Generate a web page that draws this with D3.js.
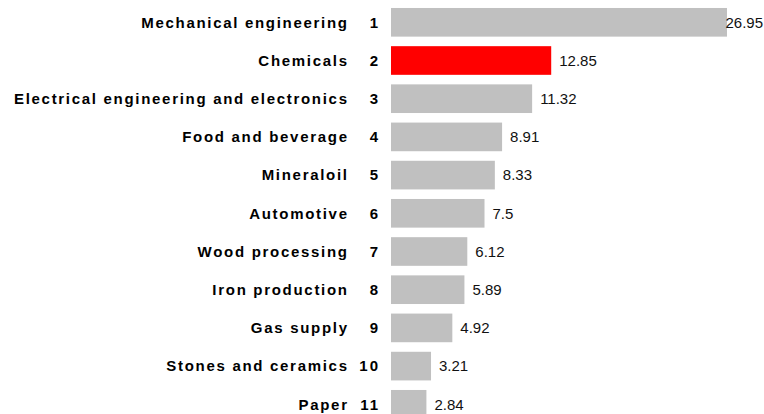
<!DOCTYPE html>
<html>
<head>
<meta charset="utf-8">
<script src="https://cdn.jsdelivr.net/npm/d3@7"></script>
<style>
  body { margin: 0; background: #fff; }
  svg { display: block; }
  .label { font: bold 15px "Liberation Sans", Arial, sans-serif; letter-spacing: 1.7px; fill: #000; }
  .rank { font: bold 15px "Liberation Sans", Arial, sans-serif; letter-spacing: 2px; fill: #000; }
  .value { font: 15px "Liberation Sans", Arial, sans-serif; fill: #111; }
</style>
</head>
<body>
<svg id="chart"></svg>
<script>
'use strict';

const sectors = [
  'Mechanical engineering',
  'Chemicals',
  'Electrical engineering and electronics',
  'Food and beverage',
  'Mineraloil',
  'Automotive',
  'Wood processing',
  'Iron production',
  'Gas supply',
  'Stones and ceramics',
  'Paper'
];
const ranks = [1, 2, 3, 4, 5, 6, 7, 8, 9, 10, 11];
const values = [26.95, 12.85, 11.32, 8.91, 8.33, 7.5, 6.12, 5.89, 4.92, 3.21, 2.84];
const highlighted = 'Chemicals';

const width = 764;
const height = 414;

const svg = d3.select('#chart')
  .attr('width', width)
  .attr('height', height);

// Bars start right of the rank column.
const x = d3.scaleLinear()
  .domain([0, d3.max(values)])
  .range([391, 727]);

// Last row runs off the bottom edge, as in the original.
const y = d3.scaleBand()
  .domain(sectors)
  .range([3.2, 3.2 + sectors.length * 38.2])
  .paddingInner(0.25)
  .paddingOuter(0.125);

const mid = d => y(d.name) + y.bandwidth() / 2;

const rows = svg.selectAll('g.row')
  .data(sectors.map((name, i) => ({ name, rank: ranks[i], value: values[i] })))
  .join('g')
  .attr('class', 'row');

rows.append('rect')
  .attr('x', x(0))
  .attr('y', d => y(d.name))
  .attr('width', d => x(d.value) - x(0))
  .attr('height', y.bandwidth())
  .attr('fill', d => d.name === highlighted ? '#ff0000' : '#c0c0c0');

// letter-spacing trails the last glyph, so shift anchors right by it
rows.append('text')
  .attr('class', 'label')
  .attr('x', 347 + 1.7)
  .attr('y', mid)
  .attr('dy', '0.35em')
  .attr('text-anchor', 'end')
  .text(d => d.name);

rows.append('text')
  .attr('class', 'rank')
  .attr('x', 378 + 2)
  .attr('y', mid)
  .attr('dy', '0.35em')
  .attr('text-anchor', 'end')
  .text(d => d.rank);

rows.append('text')
  .attr('class', 'value')
  .attr('y', mid)
  .attr('dy', '0.35em')
  .text(d => d.value)
  .attr('x', function (d) {
    // Keep the label inside the canvas when the bar is long.
    const w = this.getComputedTextLength();
    return Math.min(x(d.value) + 8, width - w - 1);
  });
</script>
</body>
</html>
